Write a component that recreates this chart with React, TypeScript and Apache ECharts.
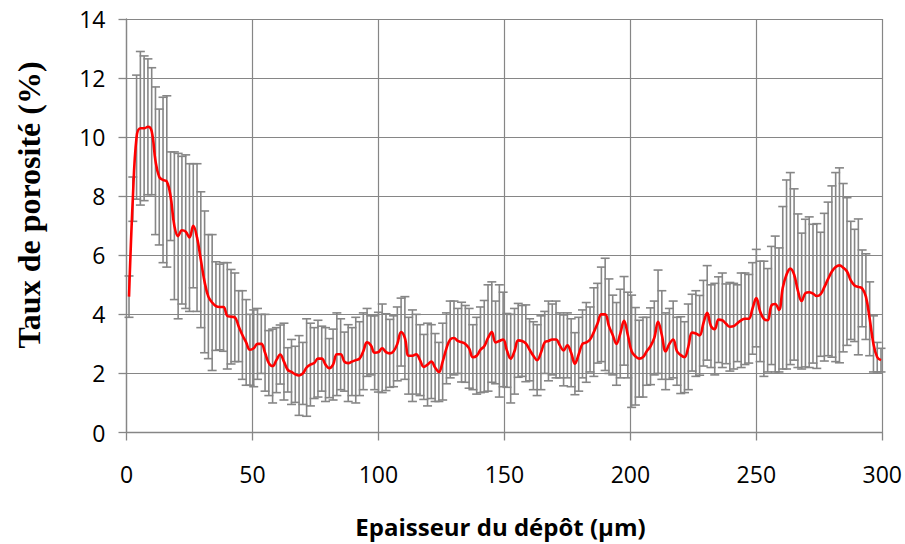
import React, { useEffect, useRef } from "react";
import * as echarts from "echarts";

// Epaisseur du dépôt (µm)
const THICKNESS: number[] = [
  1, 2.5, 4, 5.5, 7, 8.5, 10, 11.5, 13, 14.5, 16, 17.5, 19, 20.5, 22, 23.5, 25, 26.5, 28, 29.5,
  31, 32.5, 34, 35.5, 37, 38.5, 40, 41.5, 43, 44.5, 46, 47.5, 49, 50.5, 52, 53.5, 55, 56.5, 58, 59.5,
  61, 62.5, 64, 65.5, 67, 68.5, 70, 71.5, 73, 74.5, 76, 77.5, 79, 80.5, 82, 83.5, 85, 86.5, 88, 89.5,
  91, 92.5, 94, 95.5, 97, 98.5, 100, 101.5, 103, 104.5, 106, 107.5, 109, 110.5, 112, 113.5, 115, 116.5, 118, 119.5,
  121, 122.5, 124, 125.5, 127, 128.5, 130, 131.5, 133, 134.5, 136, 137.5, 139, 140.5, 142, 143.5, 145, 146.5, 148, 149.5,
  151, 152.5, 154, 155.5, 157, 158.5, 160, 161.5, 163, 164.5, 166, 167.5, 169, 170.5, 172, 173.5, 175, 176.5, 178, 179.5,
  181, 182.5, 184, 185.5, 187, 188.5, 190, 191.5, 193, 194.5, 196, 197.5, 199, 200.5, 202, 203.5, 205, 206.5, 208, 209.5,
  211, 212.5, 214, 215.5, 217, 218.5, 220, 221.5, 223, 224.5, 226, 227.5, 229, 230.5, 232, 233.5, 235, 236.5, 238, 239.5,
  241, 242.5, 244, 245.5, 247, 248.5, 250, 251.5, 253, 254.5, 256, 257.5, 259, 260.5, 262, 263.5, 265, 266.5, 268, 269.5,
  271, 272.5, 274, 275.5, 277, 278.5, 280, 281.5, 283, 284.5, 286, 287.5, 289, 290.5, 292, 293.5, 295, 296.5, 298, 299.5,
];

// Taux de porosité moyen (%)
const POROSITY: number[] = [
  4.6, 7.9, 10.0, 10.3, 10.3, 10.35, 10.2, 9.2, 8.65, 8.55, 8.5, 8.0, 7.0, 6.65, 6.85, 6.8, 6.6, 7.0, 6.6, 5.85,
  5.1, 4.6, 4.4, 4.28, 4.25, 4.25, 3.95, 3.92, 3.9, 3.6, 3.3, 3.05, 2.8, 2.85, 3.0, 3.0, 2.7, 2.35, 2.25, 2.45,
  2.64, 2.4, 2.12, 2.05, 1.97, 1.93, 2.0, 2.2, 2.3, 2.35, 2.5, 2.5, 2.3, 2.18, 2.3, 2.65, 2.65, 2.4, 2.35, 2.4,
  2.45, 2.5, 2.75, 3.05, 2.95, 2.7, 2.72, 2.85, 2.72, 2.68, 2.75, 3.0, 3.4, 3.2, 2.6, 2.6, 2.65, 2.45, 2.22, 2.3,
  2.4, 2.2, 2.05, 2.4, 2.85, 3.15, 3.2, 3.1, 3.06, 3.0, 2.85, 2.55, 2.6, 2.8, 2.92, 3.2, 3.4, 3.05, 3.1, 3.15,
  2.78, 2.5, 2.75, 3.12, 3.1, 3.02, 2.8, 2.6, 2.45, 2.7, 3.05, 3.1, 3.15, 3.15, 2.95, 2.78, 2.95, 2.7, 2.33, 2.65,
  3.0, 3.05, 3.15, 3.4, 3.7, 4.0, 4.0, 3.6, 3.3, 3.0, 3.35, 3.78, 3.3, 2.75, 2.58, 2.5, 2.55, 2.75, 2.92, 3.2,
  3.75, 3.3, 2.75, 3.0, 3.15, 2.75, 2.62, 2.55, 2.9, 3.38, 3.35, 3.29, 3.7, 4.05, 3.6, 3.5, 3.82, 3.8, 3.68, 3.58,
  3.6, 3.7, 3.8, 3.85, 3.85, 4.2, 4.55, 4.1, 3.85, 3.8, 4.3, 4.35, 4.15, 4.9, 5.35, 5.55, 5.35, 4.8, 4.45, 4.72,
  4.75, 4.7, 4.62, 4.68, 4.92, 5.2, 5.45, 5.6, 5.66, 5.58, 5.45, 5.15, 4.98, 4.93, 4.88, 4.6, 3.85, 3.0, 2.55, 2.45,
];

// Écart-type (%), demi-hauteur des barres d'erreur
const ERROR: number[] = [
  0.7, 0.75, 2.1, 2.6, 2.45, 2.3, 2.15, 2.5, 2.3, 2.8, 2.9, 1.5, 2.5, 2.8, 2.5, 2.6, 2.5, 2.1, 2.5, 2.3,
  2.4, 2.1, 2.3, 1.5, 1.45, 1.5, 1.8, 1.6, 1.5, 1.2, 1.5, 1.45, 1.2, 1.3, 1.2, 1.0, 1.3, 1.1, 1.25, 1.1,
  1.0, 1.3, 0.75, 1.1, 0.95, 1.35, 1.05, 1.65, 1.4, 1.2, 1.3, 1.1, 1.25, 1.0, 1.2, 1.4, 1.2, 1.0, 1.3, 1.15,
  1.45, 1.25, 1.3, 1.15, 1.0, 1.25, 1.35, 1.5, 1.3, 1.15, 1.2, 1.25, 1.15, 1.4, 1.3, 1.55, 1.35, 1.2, 1.1, 1.4,
  1.25, 1.15, 1.0, 1.3, 1.2, 1.3, 1.25, 1.1, 1.35, 1.3, 1.35, 1.1, 1.3, 1.45, 1.55, 1.8, 1.7, 1.4, 1.9, 1.6,
  1.25, 1.5, 1.45, 1.25, 1.2, 1.3, 1.05, 1.15, 1.2, 1.25, 1.05, 1.35, 1.2, 1.3, 1.1, 1.2, 1.1, 1.15, 1.05, 1.25,
  1.15, 1.35, 1.1, 1.5, 1.35, 1.6, 1.9, 1.6, 1.35, 1.4, 1.5, 1.5, 1.45, 1.9, 1.65, 1.3, 1.35, 1.15, 1.3, 1.25,
  1.75, 1.5, 1.3, 1.2, 1.3, 1.15, 1.3, 1.2, 1.45, 1.3, 1.45, 1.35, 1.45, 1.6, 1.4, 1.55, 1.45, 1.6, 1.35, 1.5,
  1.45, 1.3, 1.6, 1.55, 1.5, 1.55, 1.65, 1.7, 1.95, 1.75, 2.0, 2.3, 2.1, 2.75, 3.2, 3.25, 2.9, 2.6, 2.3, 2.5,
  2.55, 2.35, 2.45, 2.1, 2.5, 2.6, 2.9, 3.2, 3.3, 2.85, 2.5, 2.0, 1.9, 2.3, 1.3, 1.45, 1.25, 0.95, 0.5, 0.4,
];

const X_TITLE = "Epaisseur du dépôt (µm)";
const Y_TITLE = "Taux de porosité (%)";

const GRAY = "#868686";
const LABEL_FONT = "'Open Sans', 'Liberation Sans', sans-serif";

export default function App() {
  const ref = useRef<HTMLDivElement | null>(null);

  useEffect(() => {
    if (!ref.current) return;
    const chart = echarts.init(ref.current, null, { renderer: "svg" });

    const lineData = THICKNESS.map((x, i) => [x, POROSITY[i]]);
    const errData = THICKNESS.map((x, i) => [x, POROSITY[i] - ERROR[i], POROSITY[i] + ERROR[i]]);

    chart.setOption({
      animation: false,
      backgroundColor: "#ffffff",
      grid: { left: 126.5, right: 21, top: 19, bottom: 111.5, containLabel: false },
      xAxis: {
        type: "value",
        min: 0,
        max: 300,
        interval: 50,
        axisLine: { show: true, onZero: false, lineStyle: { color: GRAY, width: 1.3 } },
        axisTick: { show: true, length: 8, lineStyle: { color: GRAY, width: 1.3 } },
        axisLabel: { color: "#000", fontFamily: LABEL_FONT, fontSize: 23, margin: 30 },
        splitLine: { show: true, lineStyle: { color: GRAY, width: 1.2 } },
      },
      yAxis: {
        type: "value",
        min: 0,
        max: 14,
        interval: 2,
        axisLine: { show: true, lineStyle: { color: GRAY, width: 1.3 } },
        axisTick: { show: true, length: 8, lineStyle: { color: GRAY, width: 1.3 } },
        axisLabel: { color: "#000", fontFamily: LABEL_FONT, fontSize: 23, margin: 21 },
        splitLine: { show: true, lineStyle: { color: GRAY, width: 1.2 } },
      },
      graphic: [
        {
          type: "text",
          x: 28.5,
          y: 205,
          rotation: Math.PI / 2,
          style: {
            text: Y_TITLE,
            font: "bold 32px 'Liberation Serif', 'Times New Roman', serif",
            fill: "#000",
            textAlign: "center",
            textVerticalAlign: "middle",
          },
        },
        {
          type: "text",
          x: 500.5,
          y: 526,
          style: {
            text: X_TITLE,
            font: "bold 24px 'Open Sans', 'Liberation Sans', sans-serif",
            fill: "#000",
            textAlign: "center",
            textVerticalAlign: "middle",
          },
        },
      ],
      series: [
        {
          type: "custom",
          name: "errors",
          data: errData,
          z: 2,
          renderItem: (params: any, api: any) => {
            const x = api.value(0);
            const lo = api.coord([x, api.value(1)]);
            const hi = api.coord([x, api.value(2)]);
            const half = 4.5;
            const style = { stroke: GRAY, lineWidth: 1.6 };
            return {
              type: "group",
              children: [
                { type: "line", shape: { x1: lo[0], y1: lo[1], x2: hi[0], y2: hi[1] }, style },
                { type: "line", shape: { x1: hi[0] - half, y1: hi[1], x2: hi[0] + half, y2: hi[1] }, style },
                { type: "line", shape: { x1: lo[0] - half, y1: lo[1], x2: lo[0] + half, y2: lo[1] }, style },
              ],
            };
          },
        },
        {
          type: "line",
          name: "porosity",
          data: lineData,
          smooth: 0.4,
          symbol: "none",
          z: 5,
          lineStyle: { color: "#ff0000", width: 2.6 },
        },
      ],
    });

    return () => {
      chart.dispose();
    };
  }, []);

  return (
    <div
      ref={ref}
      style={{ position: "fixed", left: 0, top: 0, width: 905, height: 544, background: "#fff" }}
    />
  );
}
